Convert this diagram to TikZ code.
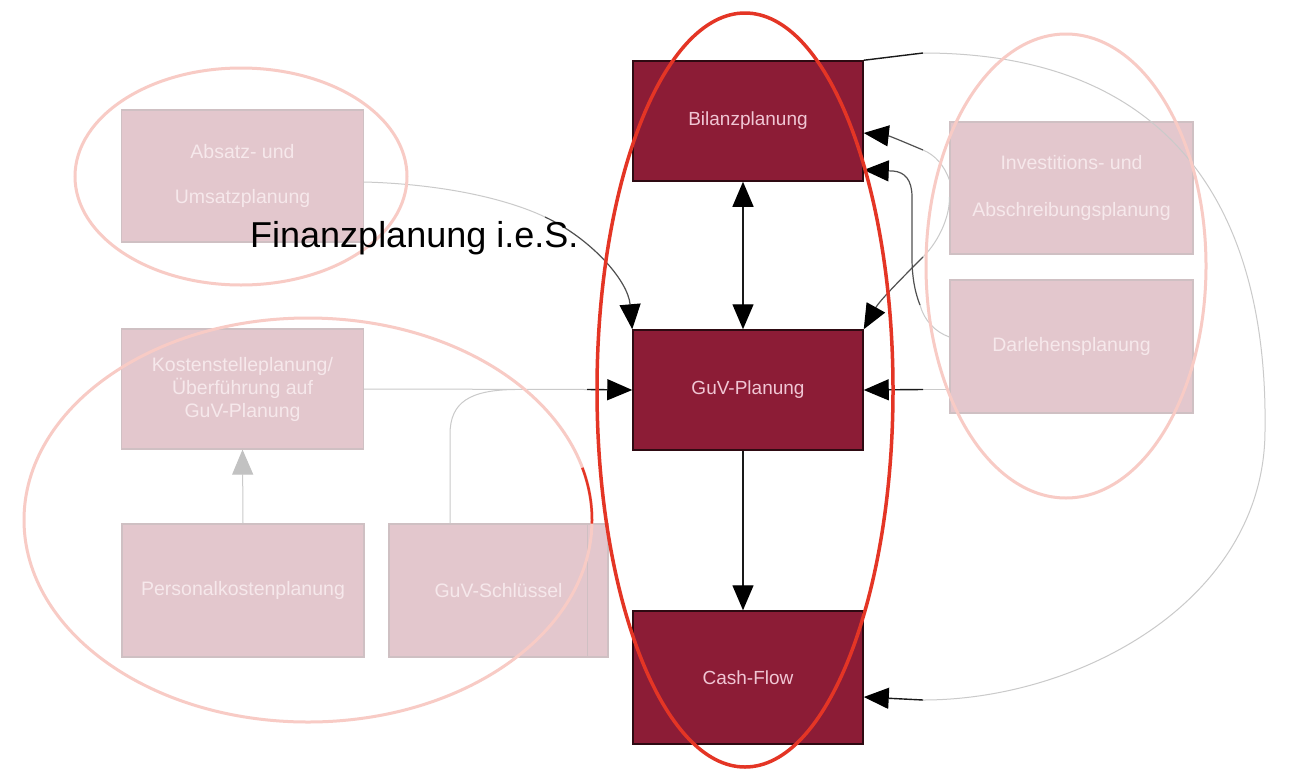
\documentclass[tikz,border=0pt]{standalone}
\usepackage{fontspec}
\setmainfont{Liberation Sans}
\usetikzlibrary{arrows.meta}
\definecolor{boxred}{HTML}{8C1C36}
\definecolor{boxredline}{HTML}{2E0A12}
\definecolor{boxredtext}{HTML}{F0C6D4}
\definecolor{lightfill}{HTML}{E3C7CD}
\definecolor{lightline}{HTML}{CFC0C3}
\definecolor{lighttext}{HTML}{F6E8EB}
\definecolor{pinkring}{HTML}{F8CBC5}
\definecolor{redring}{HTML}{E43525}
\definecolor{faintline}{HTML}{CACACA}
\definecolor{midline}{HTML}{505050}
\definecolor{tipgray}{HTML}{C2C2C2}
\begin{document}
\begin{tikzpicture}[x=1pt,y=-1pt,
  darkbox/.style={draw=boxredline, line width=1.5pt, fill=boxred, text=boxredtext,
    font=\fontsize{19}{23}\selectfont, inner sep=0pt},
  lightbox/.style={draw=lightline, line width=1.2pt, fill=lightfill, text=lighttext,
    font=\fontsize{19.5}{23}\selectfont, align=center, inner sep=0pt},
  faintconn/.style={draw=faintline, line width=1pt},
  midconn/.style={draw=midline, line width=1.2pt},
  darkconn/.style={draw=black!90, line width=1.4pt},
  bigtip/.style={-{Triangle[length=25pt,width=21pt,color=black]}},
  bigtipstart/.style={{Triangle[length=25pt,width=21pt,color=black]}-},
  bothtips/.style={{Triangle[length=25pt,width=21pt,color=black]}-{Triangle[length=25pt,width=21pt,color=black]}},
  ring/.style={draw=pinkring, line width=3pt},
]
\fill[white] (0,0) rectangle (1290,782);
\useasboundingbox (0,0) rectangle (1290,782);

% boxes
\node[darkbox, minimum width=230pt, minimum height=120pt] (bil) at (748,121) {Bilanzplanung};
\node[darkbox, minimum width=230pt, minimum height=120pt] (guv) at (748,390) {GuV-Planung};
\node[darkbox, minimum width=230pt, minimum height=133pt] (cf) at (748,677.5) {Cash-Flow};
\node[lightbox, minimum width=242pt, minimum height=132pt, font=\fontsize{19.5}{45}\selectfont] (abs) at (242.5,176) {Absatz- und\\Umsatzplanung};
\node[lightbox, minimum width=242pt, minimum height=120pt] (kos) at (242.5,389) {Kostenstelleplanung/\\Überführung auf\\GuV-Planung};
\node[lightbox, minimum width=242pt, minimum height=133pt] (per) at (243,590.5) {Personalkostenplanung};
\node[lightbox, minimum width=219pt, minimum height=133pt] (gs) at (498.5,590.5) {GuV-Schlüssel};
\draw[lightline, line width=1pt] ([xshift=-21.5pt]gs.north east) -- ([xshift=-21.5pt]gs.south east);
\node[lightbox, minimum width=243pt, minimum height=132pt, font=\fontsize{19.5}{47}\selectfont] (inv) at (1071.5,188) {Investitions- und\\Abschreibungsplanung};
\node[lightbox, minimum width=243pt, minimum height=133pt] (dar) at (1071.5,346.5) {Darlehensplanung};

% connectors
\coordinate (a1) at (545,217);
\draw[faintconn] ([yshift=-6pt]abs.east) .. controls (440,184) and (505,198) .. (a1);
\draw[midconn, bigtip] (a1) .. controls (590,238) and (628,280) .. (guv.north west);

\coordinate (k1) at (587,389.5);
\draw[faintconn] (kos.east) -- (k1);
\draw[darkconn, bigtip] (k1) -- (guv.west);

\coordinate (g1) at (515,389.5);
\draw[faintconn] ([xshift=-48.5pt]gs.north) -- ++(0,-89) .. controls (450,402) and (470,390) .. (g1);

\draw[faintconn, -{Triangle[length=25pt,width=21pt,color=tipgray]}] (per.north) -- (kos.south);

\draw[darkconn, bothtips] ([xshift=-5pt]bil.south) -- ([xshift=-5pt]guv.north);
\draw[darkconn, bigtip] ([xshift=-5pt]guv.south) -- ([xshift=-5pt]cf.north);

\coordinate (d1) at (923,389.5);
\draw[faintconn] ([yshift=-43pt]dar.west) -- (d1);
\draw[darkconn, bigtip] (d1) -- (guv.east);

\coordinate (b1) at (923,53);
\coordinate (b2) at (1265,430);
\coordinate (b3) at (923,700);
\draw[darkconn] (bil.north east) -- (b1);
\draw[faintconn] (b1) .. controls (1180,53) and (1268,220) .. (b2) .. controls (1265,600) and (1080,700) .. (b3);
\draw[darkconn, bigtip] (b3) -- ([yshift=-19.5pt]cf.east);

\coordinate (i1) at (923,150);
\draw[faintconn] ([yshift=8pt]inv.west) .. controls (944,165) and (935,155) .. (i1);
\draw[midconn, bigtip] (i1) .. controls (911,145) and (890,136) .. ([yshift=-12pt]bil.east);

\coordinate (i2) at (923,257);
\draw[faintconn] ([yshift=-9pt]inv.west) .. controls (950,215) and (940,240) .. (i2);
\draw[midconn, bigtip] (i2) .. controls (905,275) and (880,300) .. (guv.north east);

\coordinate (d2) at (920,305);
\draw[faintconn] ([yshift=9.5pt]dar.west) .. controls (935,332) and (924,320) .. (d2);
\draw[midconn, bigtipstart] ([yshift=-49pt]bil.east) -- (893,171) .. controls (905,172) and (912,180) .. (912,197) -- (912,258) .. controls (912,280) and (916,295) .. (d2);

% rings
\draw[ring] (241,176.5) ellipse [x radius=166pt, y radius=108.5pt];
\draw[ring] (308,520) ellipse [x radius=284pt, y radius=202pt];
\draw[ring] (1066,266) ellipse [x radius=140pt, y radius=232pt];
\draw[redring, line width=2.5pt] (308,520) ++(-1:284pt and 202pt) arc[start angle=-1, end angle=15, x radius=284pt, y radius=202pt];
\draw[redring, line width=3.5pt] (745,390) ellipse [x radius=148pt, y radius=377pt];

% title
\node[font=\fontsize{36}{40}\selectfont, anchor=base west, inner sep=0pt] (fin) at (250,247) {Finanzplanung i.e.S.};
\end{tikzpicture}
\end{document}
